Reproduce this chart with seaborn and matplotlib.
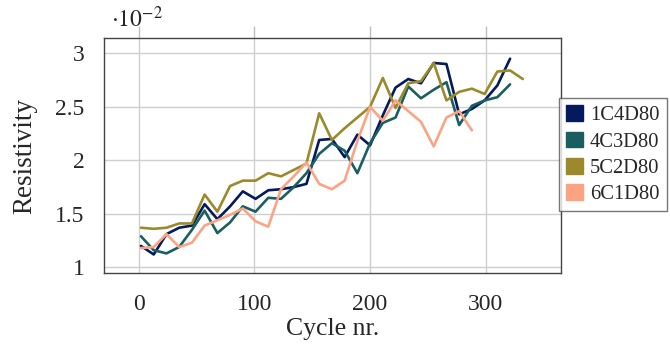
import matplotlib
matplotlib.use("Agg")
import matplotlib.pyplot as plt
from matplotlib.patches import Patch
import seaborn as sns
import pandas as pd

# ---- data (resistivity in units of 1e-2) ----
cycles = [2, 13, 24, 35, 46, 57, 68, 79, 90, 101, 112, 123, 134, 145, 156,
          167, 178, 189, 200, 211, 222, 233, 244, 255, 266, 277, 288, 299,
          310, 321, 332]

res_1c4d80 = [1.20, 1.12, 1.31, 1.37, 1.39, 1.59, 1.45, 1.57, 1.71, 1.64,
              1.72, 1.73, 1.75, 1.78, 2.19, 2.20, 2.03, 2.24, 2.14, 2.42,
              2.68, 2.76, 2.72, 2.91, 2.90, 2.43, 2.48, 2.56, 2.70, 2.95]
res_4c3d80 = [1.29, 1.16, 1.13, 1.19, 1.35, 1.53, 1.32, 1.42, 1.57, 1.52,
              1.65, 1.64, 1.75, 1.88, 2.06, 2.16, 2.09, 1.88, 2.16, 2.35,
              2.40, 2.69, 2.58, 2.66, 2.73, 2.33, 2.51, 2.56, 2.59, 2.71]
res_5c2d80 = [1.37, 1.36, 1.37, 1.41, 1.41, 1.68, 1.52, 1.76, 1.81, 1.81,
              1.88, 1.85, 1.91, 1.97, 2.44, 2.19, 2.30, 2.40, 2.50, 2.77,
              2.49, 2.72, 2.74, 2.91, 2.56, 2.64, 2.67, 2.62, 2.83, 2.84,
              2.76]
res_6c1d80 = [1.18, 1.19, 1.31, 1.19, 1.23, 1.39, 1.44, 1.49, 1.55, 1.43,
              1.38, 1.73, 1.85, 1.98, 1.78, 1.73, 1.81, 2.18, 2.50, 2.37,
              2.56, 2.46, 2.36, 2.13, 2.40, 2.46, 2.28]

series_names = ["1C4D80", "4C3D80", "5C2D80", "6C1D80"]
series_values = [res_1c4d80, res_4c3d80, res_5c2d80, res_6c1d80]
colors = ["#041a5c", "#1b5e5f", "#9b8a2b", "#fba383"]

x_ticks = [0, 100, 200, 300]
y_ticks = [1, 1.5, 2, 2.5, 3]
y_tick_labels = ["1", "1.5", "2", "2.5", "3"]

rows = []
for name, vals in zip(series_names, series_values):
    for c, v in zip(cycles, vals):
        rows.append({"cycle": c, "res": v, "series": name})
df = pd.DataFrame(rows)

sns.set_style("white")
plt.rcParams["font.family"] = ["Liberation Serif", "DejaVu Serif"]
plt.rcParams["mathtext.fontset"] = "stix"

fig = plt.figure(figsize=(6.7, 3.45), dpi=100)
ax = fig.add_axes([0.1552, 0.2078, 0.6821, 0.681])

sns.lineplot(data=df, x="cycle", y="res", hue="series",
             palette=dict(zip(series_names, colors)), linewidth=1.9,
             legend=False, ax=ax, sort=False, estimator=None)

ax.set_xlim(-30, 365)
ax.set_ylim(0.944, 3.14)
ax.set_xticks(x_ticks)
ax.set_yticks(y_ticks)
ax.set_yticklabels(y_tick_labels)
ax.grid(True, color="#cfcfcf", linewidth=1.0)
ax.set_axisbelow(True)
for s in ax.spines.values():
    s.set_color("#444444")
    s.set_linewidth(1.0)
    s.set_visible(True)
ax.tick_params(axis="both", direction="out", length=9, width=1.0,
               color="#bdbdbd", labelsize=17, pad=5)
ax.tick_params(axis="x", top=True, pad=6)

ax.set_xlabel("Cycle nr.", fontsize=18.5, labelpad=2)
ax.set_ylabel("Resistivity", fontsize=19.5, labelpad=13)

ax.text(0.015, 1.025, r"$\cdot 10^{-2}$", transform=ax.transAxes,
        fontsize=17, ha="left", va="bottom")

handles = [Patch(facecolor=c, edgecolor=c, label=n)
           for n, c in zip(series_names, colors)]
leg = ax.legend(handles=handles, loc="upper left",
                bbox_to_anchor=(0.9956, 0.745), frameon=True,
                fontsize=14.8, handlelength=0.8, handleheight=0.8,
                handletextpad=0.35, labelspacing=0.3, borderpad=0.35,
                borderaxespad=0, fancybox=False)
leg.get_frame().set_edgecolor("#555555")
leg.get_frame().set_linewidth(1.0)

fig.savefig("out.png", dpi=100)
